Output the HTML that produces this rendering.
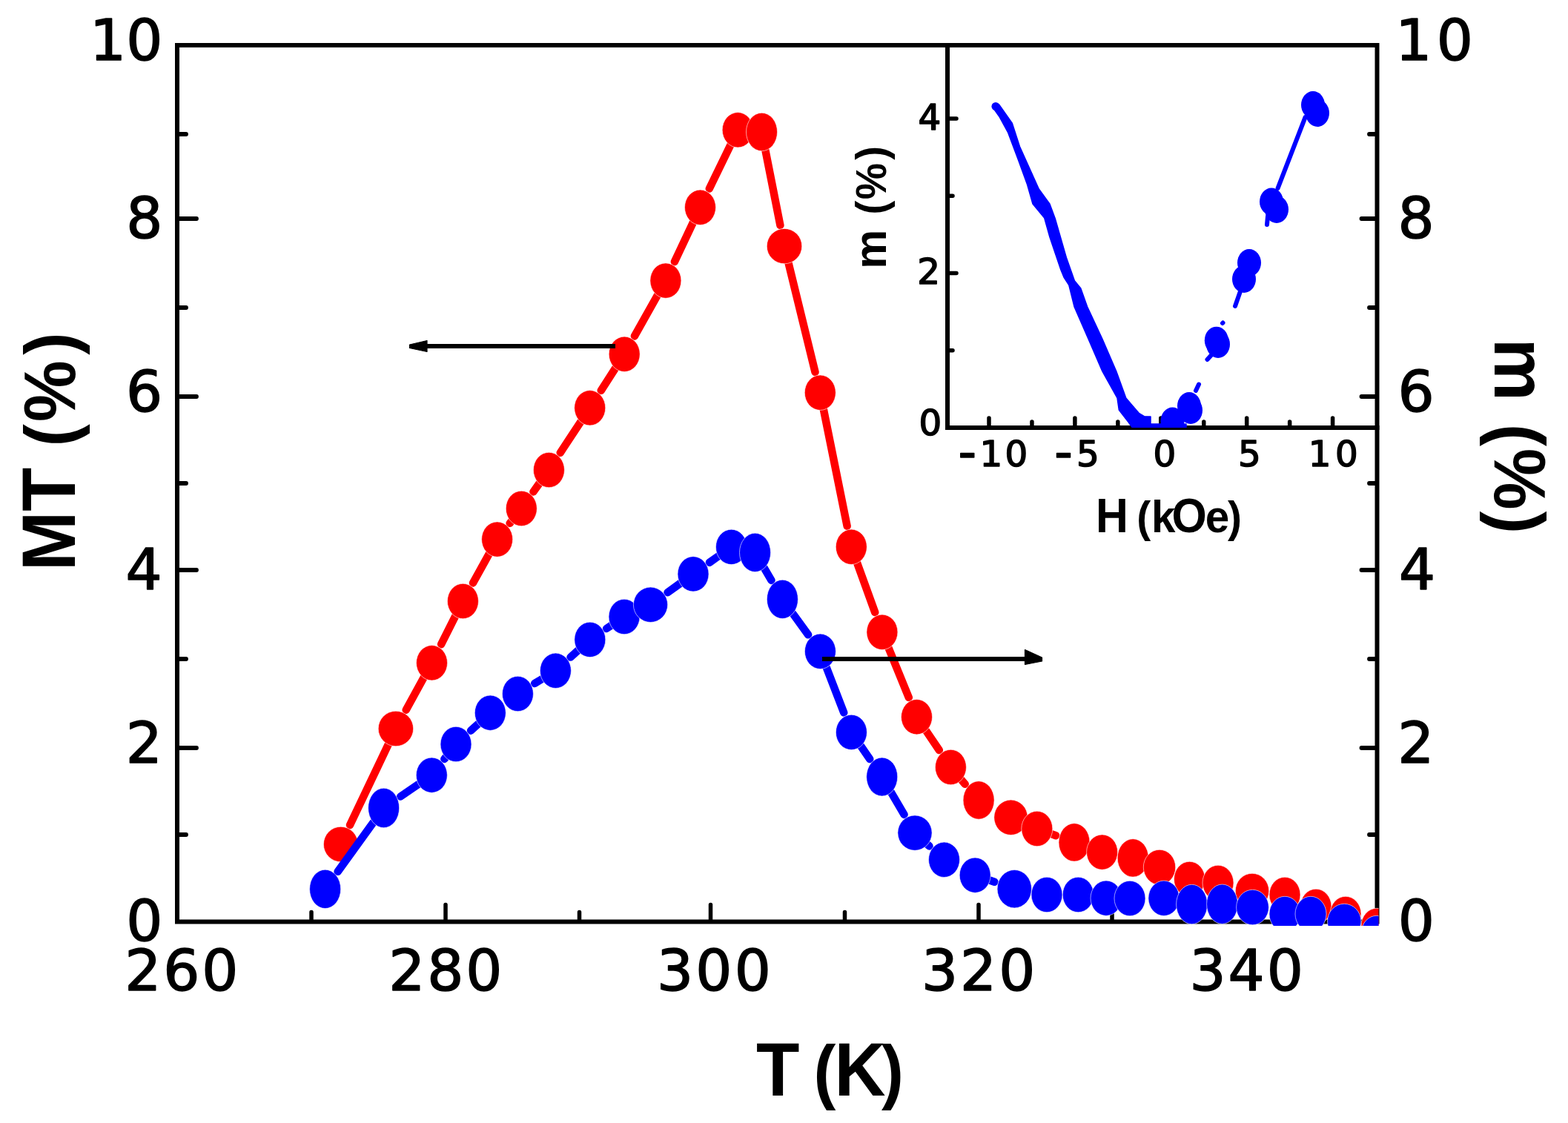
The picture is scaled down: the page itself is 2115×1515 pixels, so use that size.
<!DOCTYPE html><html><head><meta charset="utf-8"><title>MT and m vs T</title>
<style>html,body{margin:0;padding:0;background:#fff;}svg{display:block;}</style></head><body>
<svg width="2115" height="1515" viewBox="0 0 2115 1515">
<rect width="2115" height="1515" fill="#fff"/>
<defs><clipPath id="cm"><rect x="236" y="58" width="1623.5" height="1191"/></clipPath>
<clipPath id="ci"><rect x="1275" y="58" width="585" height="519"/></clipPath></defs>
<g stroke="#000" fill="none" stroke-linecap="square">
<path d="M239 61H1857.5V1243.5H239Z" stroke-width="6"/>
<path d="M601 1240.5V1220.5M958.5 1240.5V1220.5M1320 1240.5V1220.5M1679 1240.5V1220.5M420 1240.5V1230.5M781.5 1240.5V1230.5M1139.5 1240.5V1230.5M1500 1240.5V1230.5" stroke-width="5.5" stroke-linecap="round"/>
<path d="M242 1126H251M1854.5 1126H1847M242 1009H265M1854.5 1009H1836.5M242 889H251M1854.5 889H1847M242 769H265M1854.5 769H1836.5M242 652H251M1854.5 652H1847M242 535H265M1854.5 535H1836.5M242 415H251M1854.5 415H1847M242 295H265M1854.5 295H1836.5M242 181H251M1854.5 181H1847" stroke-width="5.8" stroke-linecap="round"/>
</g>
<g clip-path="url(#cm)">
<path d="M472.02 1113.11L523.91 1004M547.71 957.79L571.67 914.06M595.14 869.18L614.23 831.21M637.98 786.49L659.69 747.3M687.66 705.9L689.64 703.38M719.4 663.43L727.49 652.09M755.74 610.79L783.39 568.93M810.74 526.85L830.13 496.62M855.91 453.38L886.88 398.23M909.92 353.11L934.82 300.31M956.79 254.47L985.31 195.68M1032.36 202.54L1052.42 303.9M1063.52 354.69L1099.52 501.95M1110.87 552.37L1142.64 709.74M1156.08 759.32L1180.24 826.11M1198.5 873.92L1225.82 940.99M1249 985.66L1266.82 1011.98M1296.62 1051.79L1301.72 1057.8M1418.35 1125.17L1424.14 1127.29" stroke="#ff0000" stroke-width="10.5" stroke-linecap="round" fill="none"/>
<g fill="#ff0000" stroke="#fff" stroke-width="0.6">
<ellipse cx="459.7" cy="1139" rx="23.3" ry="23.7"/>
<ellipse cx="533.9" cy="983" rx="23.7" ry="23.7"/>
<ellipse cx="582.5" cy="894.3" rx="21" ry="23.7"/>
<ellipse cx="624.4" cy="811" rx="21" ry="23.7"/>
<ellipse cx="670.6" cy="727.6" rx="21" ry="23.7"/>
<ellipse cx="703.3" cy="686" rx="21" ry="23.7"/>
<ellipse cx="740.4" cy="634" rx="21" ry="23.7"/>
<ellipse cx="795.7" cy="550.3" rx="21" ry="23.7"/>
<ellipse cx="842.2" cy="477.8" rx="21" ry="23.7"/>
<ellipse cx="897.9" cy="378.6" rx="21" ry="23.7"/>
<ellipse cx="944.5" cy="279.8" rx="21" ry="23.7"/>
<ellipse cx="995.2" cy="175.3" rx="21" ry="23.7"/>
<ellipse cx="1027.5" cy="178" rx="21" ry="25.7"/>
<ellipse cx="1058" cy="332.1" rx="23.7" ry="23.7"/>
<ellipse cx="1106.3" cy="529.7" rx="21" ry="23.7"/>
<ellipse cx="1148.3" cy="737.8" rx="21" ry="23.7"/>
<ellipse cx="1189.9" cy="852.8" rx="21" ry="23.7"/>
<ellipse cx="1236.5" cy="967.2" rx="21" ry="23.7"/>
<ellipse cx="1282.4" cy="1035" rx="21" ry="23.7"/>
<ellipse cx="1320.1" cy="1079.5" rx="21" ry="25.7"/>
<ellipse cx="1363.5" cy="1102.8" rx="22.7" ry="23.7"/>
<ellipse cx="1398.8" cy="1118" rx="21" ry="23.7"/>
<ellipse cx="1449" cy="1136.4" rx="21" ry="25.7"/>
<ellipse cx="1486.6" cy="1149.6" rx="21" ry="23.7"/>
<ellipse cx="1528.2" cy="1157.4" rx="21" ry="25.7"/>
<ellipse cx="1564" cy="1170" rx="21.7" ry="23.7"/>
<ellipse cx="1604.5" cy="1186" rx="21" ry="23.7"/>
<ellipse cx="1643" cy="1191" rx="21" ry="23.7"/>
<ellipse cx="1689" cy="1202" rx="22.7" ry="23.7"/>
<ellipse cx="1733" cy="1207" rx="21" ry="23.7"/>
<ellipse cx="1775" cy="1223" rx="21" ry="23.7"/>
<ellipse cx="1815" cy="1233" rx="21" ry="23.7"/>
<ellipse cx="1857" cy="1249" rx="21" ry="23.7"/>
</g>
<path d="M455.62 1175.84L503.66 1109.31M540.26 1074.48L564.72 1057.74M599.33 1023.98L601.36 1021.4M635.05 985.68L645.31 976.31M721.17 922.07L731.32 915.86M769.55 886.61L779.74 877.41M818.06 848.01L824.31 843.83M900.51 799.24L917.66 786.88M956.91 758.87L969.08 750.24M1030.67 766.17L1040.46 782.88M1069.22 827.48L1090.14 856.36M1114.61 900.12L1138.22 961.45M1161.02 1006.26L1173.23 1024.03M1201.81 1068.66L1219.54 1098.93M1250.9 1139.08L1253.47 1141.45M1334.84 1187.54L1341.4 1189.83" stroke="#0000ff" stroke-width="10.5" stroke-linecap="round" fill="none"/>
<g fill="#0000ff" stroke="#fff" stroke-width="0.6">
<ellipse cx="438.6" cy="1199.4" rx="21" ry="26.2"/>
<ellipse cx="517.6" cy="1090" rx="21" ry="26.7"/>
<ellipse cx="582.3" cy="1045.7" rx="21" ry="23.7"/>
<ellipse cx="615" cy="1004" rx="21" ry="23.7"/>
<ellipse cx="661.3" cy="961.7" rx="21" ry="23.7"/>
<ellipse cx="698.4" cy="936" rx="21" ry="23.7"/>
<ellipse cx="749.4" cy="904.8" rx="21" ry="23.7"/>
<ellipse cx="795.8" cy="862.9" rx="21" ry="23.7"/>
<ellipse cx="842" cy="832" rx="21" ry="23.7"/>
<ellipse cx="877.5" cy="815.8" rx="23.1" ry="23.7"/>
<ellipse cx="935" cy="774.4" rx="21" ry="23.7"/>
<ellipse cx="986.5" cy="737.9" rx="21" ry="23.7"/>
<ellipse cx="1018.5" cy="745.4" rx="21" ry="26.2"/>
<ellipse cx="1055.4" cy="808.4" rx="21" ry="26.2"/>
<ellipse cx="1106.4" cy="878.8" rx="21" ry="23.7"/>
<ellipse cx="1148.4" cy="987.9" rx="21" ry="23.7"/>
<ellipse cx="1189.7" cy="1048" rx="21" ry="26"/>
<ellipse cx="1234" cy="1123.6" rx="23.1" ry="23.7"/>
<ellipse cx="1273.5" cy="1159.8" rx="21" ry="23.7"/>
<ellipse cx="1315.2" cy="1180.7" rx="21" ry="23.7"/>
<ellipse cx="1368.3" cy="1199.2" rx="23.2" ry="25.7"/>
<ellipse cx="1412" cy="1207" rx="21" ry="23.7"/>
<ellipse cx="1454.3" cy="1207" rx="21" ry="23.7"/>
<ellipse cx="1492" cy="1211.7" rx="21" ry="23.7"/>
<ellipse cx="1524" cy="1212" rx="21" ry="23.7"/>
<ellipse cx="1569.9" cy="1211.8" rx="21" ry="23.7"/>
<ellipse cx="1607.6" cy="1220" rx="21" ry="26.7"/>
<ellipse cx="1648.6" cy="1219.7" rx="21" ry="26.7"/>
<ellipse cx="1689.5" cy="1224" rx="21.9" ry="23.7"/>
<ellipse cx="1733" cy="1233" rx="21" ry="23.7"/>
<ellipse cx="1768" cy="1233" rx="21" ry="23.7"/>
<ellipse cx="1813.2" cy="1243" rx="22.7" ry="23.7"/>
<ellipse cx="1857" cy="1259" rx="21" ry="23.7"/>
</g>
</g>
<g stroke="#000" fill="none">
<path d="M1278 61V577H1857.5" stroke-width="6" stroke-linecap="square"/>
<path d="M1334 574V564M1449.9 574V564M1565.8 574V564M1681.7 574V564M1797.6 574V564M1391.95 574V569M1507.85 574V569M1623.75 574V569M1739.65 574V569M1281 368.5H1290M1281 160H1290M1281 472.75H1285M1281 264.25H1285" stroke-width="5.5" stroke-linecap="round"/>
</g>
<g clip-path="url(#ci)" fill="#0000ff">
<path d="M1338.5 144L1347.7 157L1359.7 179L1373.6 216L1385.6 249L1393 275L1408.7 294L1416 320L1430.9 364L1435 374L1441.8 384.5L1449 413.6L1467.9 457L1486.8 500.7L1507 537L1509.3 553L1521.7 569L1527.5 577L1600 577L1600 572L1552 572L1552 562L1543.4 561.7L1536.2 557.3L1518.8 537L1505.7 500.7L1486.8 457L1466.5 413.6L1457.8 389L1449.4 378.7L1438.3 347.3L1423.5 295.6L1416 275.2L1401.3 255L1375.4 197.6L1365.3 166.2L1347.7 141.3Z" stroke="#0000ff" stroke-width="1.5" stroke-linejoin="round"/>
<circle cx="1343" cy="143.5" r="5.5"/>
<ellipse cx="1581.5" cy="568" rx="16" ry="18.5"/>
<ellipse cx="1604" cy="547.5" rx="16" ry="18.5"/>
<ellipse cx="1606" cy="553.5" rx="16" ry="18.5"/>
<ellipse cx="1640.8" cy="459.2" rx="16" ry="18.5"/>
<ellipse cx="1643" cy="464.4" rx="16" ry="18.5"/>
<ellipse cx="1678" cy="376.5" rx="16" ry="18.5"/>
<ellipse cx="1685" cy="354.5" rx="16" ry="18.5"/>
<ellipse cx="1715" cy="272" rx="16" ry="18.5"/>
<ellipse cx="1722" cy="282.5" rx="16" ry="18.5"/>
<ellipse cx="1771" cy="141.5" rx="16" ry="18.5"/>
<ellipse cx="1777" cy="152.5" rx="16" ry="18.5"/>
</g>
<path d="M1613 527L1617 518.5M1628.5 485L1633.5 479.5M1649 436L1649.5 435.5M1666 413L1673 393M1709 303L1710 292M1723.6 253.9L1760.6 158.1" stroke="#0000ff" stroke-width="6" stroke-linecap="round" fill="none"/>
<g fill="#000" stroke="#000">
<path d="M575 467H830" stroke-width="6" fill="none"/>
<path d="M552.5 465L576 459.5V474.5L552.5 469.5Z" stroke-width="1.2" stroke-linejoin="round"/>
<path d="M1109 889H1384" stroke-width="6" fill="none"/>
<path d="M1382.5 876.5L1405.5 887V892L1382.5 896.5Z" stroke-width="1.2" stroke-linejoin="round"/>
</g>
<g fill="#000">
<text x="121.09 170.21" y="81.2" font-family="'DejaVu Sans', sans-serif" font-weight="normal" font-size="77.2" stroke="#000" stroke-width="1.6" stroke-linejoin="round">10</text>
<text x="170.36" y="321.1" font-family="'DejaVu Sans', sans-serif" font-weight="normal" font-size="77.2" stroke="#000" stroke-width="1.6" stroke-linejoin="round">8</text>
<text x="169.95" y="555.1" font-family="'DejaVu Sans', sans-serif" font-weight="normal" font-size="77.2" stroke="#000" stroke-width="1.6" stroke-linejoin="round">6</text>
<text x="169.42" y="795.2" font-family="'DejaVu Sans', sans-serif" font-weight="normal" font-size="77.2" stroke="#000" stroke-width="1.6" stroke-linejoin="round">4</text>
<text x="169.81" y="1029.2" font-family="'DejaVu Sans', sans-serif" font-weight="normal" font-size="77.2" stroke="#000" stroke-width="1.6" stroke-linejoin="round">2</text>
<text x="170.21" y="1269.1" font-family="'DejaVu Sans', sans-serif" font-weight="normal" font-size="77.2" stroke="#000" stroke-width="1.6" stroke-linejoin="round">0</text>
<text x="1885.56" y="321.1" font-family="'DejaVu Sans', sans-serif" font-weight="normal" font-size="77.2" stroke="#000" stroke-width="1.6" stroke-linejoin="round">8</text>
<text x="1885.41" y="555.1" font-family="'DejaVu Sans', sans-serif" font-weight="normal" font-size="77.2" stroke="#000" stroke-width="1.6" stroke-linejoin="round">6</text>
<text x="1887.03" y="795.2" font-family="'DejaVu Sans', sans-serif" font-weight="normal" font-size="77.2" stroke="#000" stroke-width="1.6" stroke-linejoin="round">4</text>
<text x="1885.15" y="1029.2" font-family="'DejaVu Sans', sans-serif" font-weight="normal" font-size="77.2" stroke="#000" stroke-width="1.6" stroke-linejoin="round">2</text>
<text x="1885.71" y="1269.1" font-family="'DejaVu Sans', sans-serif" font-weight="normal" font-size="77.2" stroke="#000" stroke-width="1.6" stroke-linejoin="round">0</text>
<text x="1882.32 1937.71" y="81.2" font-family="'DejaVu Sans', sans-serif" font-weight="normal" font-size="77.2" stroke="#000" stroke-width="1.6" stroke-linejoin="round">10</text>
<text x="168.15 220.18 272.21" y="1336.1" font-family="'DejaVu Sans', sans-serif" font-weight="normal" font-size="77.2" stroke="#000" stroke-width="1.6" stroke-linejoin="round">260</text>
<text x="524.15 576.17 628.21" y="1336.1" font-family="'DejaVu Sans', sans-serif" font-weight="normal" font-size="77.2" stroke="#000" stroke-width="1.6" stroke-linejoin="round">280</text>
<text x="885.92 938.34 990.81" y="1336.1" font-family="'DejaVu Sans', sans-serif" font-weight="normal" font-size="77.2" stroke="#000" stroke-width="1.6" stroke-linejoin="round">300</text>
<text x="1242.92 1295.08 1347.21" y="1336.1" font-family="'DejaVu Sans', sans-serif" font-weight="normal" font-size="77.2" stroke="#000" stroke-width="1.6" stroke-linejoin="round">320</text>
<text x="1604.62 1656.56 1708.71" y="1336.1" font-family="'DejaVu Sans', sans-serif" font-weight="normal" font-size="77.2" stroke="#000" stroke-width="1.6" stroke-linejoin="round">340</text>
<text y="1477.9" font-family="'Liberation Sans', Arial, sans-serif" font-weight="bold" transform="matrix(0.94,0,0,1,0,0)"><tspan x="1085.03" y="1477.9" font-size="101.7">T</tspan><tspan x="1147.15" y="1477.9" font-size="101.7"> </tspan><tspan x="1167.58" y="1477.9" font-size="95.5">(</tspan><tspan x="1197.45" y="1477.9" font-size="101.7">K</tspan><tspan x="1264.8" y="1477.9" font-size="95.5">)</tspan></text>
<text y="100.8" font-family="'Liberation Sans', Arial, sans-serif" font-weight="bold" transform="matrix(0,-0.95,1,0,0,0)"><tspan x="-810.91" y="100.8" font-size="101.7">M</tspan><tspan x="-726.09" y="100.8" font-size="101.7">T</tspan><tspan x="-663.97" y="100.8" font-size="101.7"> </tspan><tspan x="-634.02" y="100.8" font-size="95.5">(</tspan><tspan x="-599.07" y="100.8" font-size="98">%</tspan><tspan x="-503.88" y="100.8" font-size="95.5">)</tspan></text>
<text y="-2016" font-family="'Liberation Sans', Arial, sans-serif" font-weight="bold" transform="matrix(0,0.95,-1,0,0,0)"><tspan x="480.57" y="-2016" font-size="100">m</tspan><tspan x="569.48" y="-2016" font-size="101.7"> </tspan><tspan x="602.19" y="-2016" font-size="95.5">(</tspan><tspan x="636.82" y="-2016" font-size="98">%</tspan><tspan x="726.01" y="-2016" font-size="95.5">)</tspan></text>
<text y="629.2" font-family="'DejaVu Sans', sans-serif" font-weight="normal" stroke="#000" stroke-width="1.6" stroke-linejoin="round"><tspan x="1292.38" y="632.8" font-size="68">-</tspan><tspan x="1321.39" y="629.2" font-size="48.3">1</tspan><tspan x="1355.62" y="629.2" font-size="48.3">0</tspan></text>
<text y="629.2" font-family="'DejaVu Sans', sans-serif" font-weight="normal" stroke="#000" stroke-width="1.6" stroke-linejoin="round"><tspan x="1422.28" y="632.8" font-size="68">-</tspan><tspan x="1452.07" y="629.2" font-size="48.3">5</tspan></text>
<text x="1555.62" y="628.5" font-family="'DejaVu Sans', sans-serif" font-weight="normal" font-size="48.3" stroke="#000" stroke-width="1.6" stroke-linejoin="round">0</text>
<text x="1670.07" y="628.5" font-family="'DejaVu Sans', sans-serif" font-weight="normal" font-size="48.3" stroke="#000" stroke-width="1.6" stroke-linejoin="round">5</text>
<text x="1764.79 1801.12" y="629.2" font-family="'DejaVu Sans', sans-serif" font-weight="normal" font-size="48.3" stroke="#000" stroke-width="1.6" stroke-linejoin="round">10</text>
<text x="1238.44" y="175.2" font-family="'DejaVu Sans', sans-serif" font-weight="normal" font-size="48.3" stroke="#000" stroke-width="1.6" stroke-linejoin="round">4</text>
<text x="1237.26" y="383.2" font-family="'DejaVu Sans', sans-serif" font-weight="normal" font-size="48.3" stroke="#000" stroke-width="1.6" stroke-linejoin="round">2</text>
<text x="1239.62" y="586.5" font-family="'DejaVu Sans', sans-serif" font-weight="normal" font-size="48.3" stroke="#000" stroke-width="1.6" stroke-linejoin="round">0</text>
<text y="718" font-family="'Liberation Sans', Arial, sans-serif" font-weight="bold" transform="matrix(0.95,0,0,1,0,0)"><tspan x="1555.72" y="718" font-size="64">H</tspan><tspan x="1601.94" y="718" font-size="62"> </tspan><tspan x="1613.85" y="718" font-size="60">(</tspan><tspan x="1634.65" y="718" font-size="61.5">k</tspan><tspan x="1663.69" y="718" font-size="64">O</tspan><tspan x="1711.28" y="718" font-size="61.5">e</tspan><tspan x="1743.1" y="718" font-size="60">)</tspan></text>
<text y="1195.1" font-family="'Liberation Sans', Arial, sans-serif" font-weight="bold" transform="matrix(0,-0.97,1,0,0,0)"><tspan x="-374.05" y="1195.1" font-size="61.5">m</tspan><tspan x="-319.37" y="1195.1" font-size="61"> </tspan><tspan x="-298.46" y="1195.1" font-size="58">(</tspan><tspan x="-277.5" y="1195.1" font-size="57">%</tspan><tspan x="-222.32" y="1195.1" font-size="58">)</tspan></text>
</g>
</svg></body></html>
